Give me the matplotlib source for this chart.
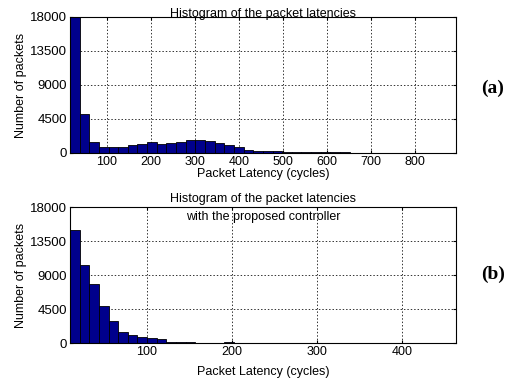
import numpy as np
import matplotlib
matplotlib.use("Agg")
import matplotlib.pyplot as plt

plt.rcParams['font.family'] = ['Liberation Sans', 'DejaVu Sans']

# (a) sem controlador: 40 bins entre 16.7 e 893 ciclos
faixa_a = (16.7, 893.0)
contagens_a = [19500, 5100, 1480, 770, 770, 780, 1000, 1250, 1390, 1250,
               1320, 1450, 1690, 1690, 1560, 1300, 1030, 740, 460, 300,
               250, 200, 150, 120, 100, 120, 130, 120, 90, 60,
               50, 40, 30, 10, 0, 0, 0, 0, 0, 0]
ticks_a = [100, 200, 300, 400, 500, 600, 700, 800]

# (b) com o controlador proposto: 40 bins entre 9.8 e 463.5 ciclos
faixa_b = (9.8, 463.5)
contagens_b = [14950, 10400, 7900, 4930, 2860, 1520, 1120, 800, 680, 500,
               190, 150, 130, 60, 50, 50, 150, 50, 40, 40,
               30, 30, 30, 30, 20, 20, 20, 10, 0, 0,
               0, 0, 0, 0, 0, 0, 0, 0, 0, 0]
ticks_b = [100, 200, 300, 400]

yticks = [0, 4500, 9000, 13500, 18000]
cor_barra = '#00008c'

fig = plt.figure(figsize=(5.07, 3.82), dpi=100)
ax1 = fig.add_axes([0.138, 0.5995, 0.761, 0.356])
ax2 = fig.add_axes([0.138, 0.102, 0.761, 0.355])


def histograma(ax, faixa, contagens, xt):
    bordas = np.linspace(faixa[0], faixa[1], len(contagens) + 1)
    ax.bar(bordas[:-1], contagens, width=np.diff(bordas), align='edge',
           color=cor_barra, edgecolor='black', linewidth=0.6, zorder=2)
    ax.set_xlim(faixa)
    ax.set_ylim(0, 18000)
    ax.set_xticks(xt)
    ax.set_yticks(yticks)
    ax.grid(True, linestyle=(0, (1.5, 2)), color='#333333', linewidth=0.7, zorder=1)
    ax.set_axisbelow(True)
    ax.tick_params(direction='in', length=2, labelsize=9, top=True, right=True, pad=2)
    ax.tick_params(axis='y', labelsize=9.5)
    ax.set_ylabel('Number of packets', fontsize=9, labelpad=2)
    for s in ax.spines.values():
        s.set_linewidth(0.8)


histograma(ax1, faixa_a, contagens_a, ticks_a)
ax1.set_title('Histogram of the packet latencies', fontsize=9, pad=0)
ax1.set_xlabel('Packet Latency (cycles)', fontsize=9, labelpad=0)

histograma(ax2, faixa_b, contagens_b, ticks_b)
ax2.text(0.5, 0.995, 'Histogram of the packet latencies\nwith the proposed controller',
         transform=ax2.transAxes, ha='center', va='center', fontsize=9, linespacing=1.6)
ax2.set_xlabel('Packet Latency (cycles)', fontsize=9, labelpad=6)

fig.text(0.949, 0.768, '(a)', fontsize=14, fontweight='bold', family='Liberation Serif',
         ha='left', va='center')
fig.text(0.949, 0.283, '(b)', fontsize=14, fontweight='bold', family='Liberation Serif',
         ha='left', va='center')

fig.savefig('out.png', dpi=100)
